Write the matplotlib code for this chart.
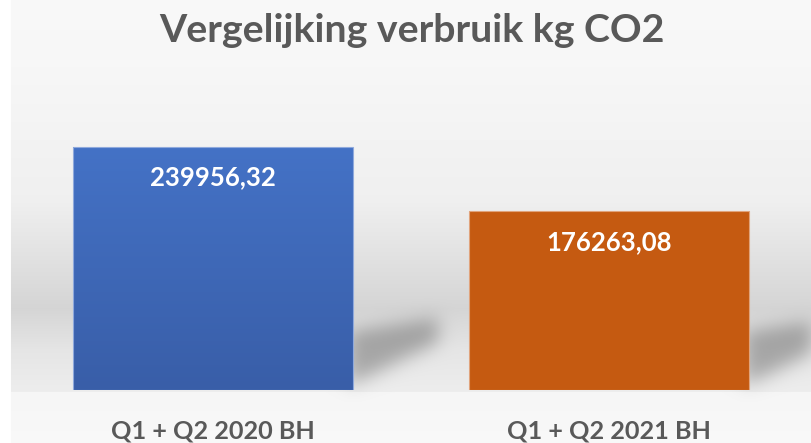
import numpy as np
import matplotlib
matplotlib.use("Agg")
import matplotlib.pyplot as plt
from matplotlib.path import Path

plt.rcParams['font.family'] = ['Lato', 'DejaVu Sans']

categories = ["Q1 + Q2 2020 BH", "Q1 + Q2 2021 BH"]
values = [239956.32, 176263.08]
value_labels = ["239956,32", "176263,08"]
title = "Vergelijking verbruik kg CO2"

W, H = 812, 443
fig = plt.figure(figsize=(W / 100, H / 100), dpi=100)

# background axes (wall + floor + shadows), filled in after bars exist
bg_ax = fig.add_axes([0, 0, 1, 1], zorder=0)
bg_ax.axis('off')

ax = fig.add_axes([15 / W, 53 / H, 792 / W, 304 / H], zorder=1)
ax.patch.set_alpha(0)
ax.set_xlim(-0.5, 1.5)
ax.set_ylim(0, 300000)

x = np.arange(len(categories))
bars = ax.bar(x, values, width=0.707, color=['#4472C4', '#C55A11'],
              edgecolor=['#8fa9dc', '#e0a37c'], linewidth=0.8)

# blue gradient on first bar
b = bars[0]
grad = np.linspace(0, 1, 256).reshape(-1, 1)
top_c = np.array([0x44, 0x72, 0xC6]) / 255
bot_c = np.array([0x39, 0x5E, 0xA8]) / 255
img = top_c + (bot_c - top_c) * grad[..., None]
im = ax.imshow(img.reshape(256, 1, 3), extent=[b.get_x(), b.get_x() + b.get_width(), 0, b.get_height()],
               aspect='auto', origin='upper', zorder=2)
im.set_clip_path(b)
b.set_zorder(3)
b.set_facecolor('none')

for xi, v, lab in zip(x, values, value_labels):
    ax.annotate(lab, (xi, v), xytext=(0, -22), textcoords='offset points',
                ha='center', va='center', color='white', fontsize=18.5, fontweight='bold', zorder=5)

ax.set_xticks(x)
ax.set_xticklabels(categories, fontsize=18.2, fontweight='bold', color='#595959')
ax.tick_params(axis='x', length=0, pad=21)
ax.set_yticks([])
for s in ax.spines.values():
    s.set_visible(False)

fig.text(0.507, 1 - 31 / H, title, ha='center', va='center', fontsize=28.3,
         fontweight='bold', color='#595959')

# build background image in pixel rows (row 0 = top)
rows = np.arange(H, dtype=float)
floor_y = 392
wall = np.interp(rows, [0, 60, 200, 308, 350, floor_y - 1, floor_y, H],
                 [0.975, 0.97, 0.94, 0.835, 0.90, 0.93, 0.965, 0.975])
bgimg = np.repeat(wall[:, None], W, axis=1)
bgimg[:, :11] = 1.0

# shadows behind bars, derived from bar positions
yy, xx = np.mgrid[0:H, 0:W]
pts = np.column_stack([xx.ravel() + 0.5, yy.ravel() + 0.5])
mask = np.zeros(H * W)
for bar in bars:
    (x0, y0), (x1, y1) = ax.transData.transform([[bar.get_x(), 0],
                                                 [bar.get_x() + bar.get_width(), bar.get_height()]])
    xr = x1
    yb = H - y0
    poly = Path([(xr - 5, yb - 4), (xr - 5, yb - 58), (xr + 85, yb - 72), (xr + 85, yb - 48)])
    mask = np.maximum(mask, poly.contains_points(pts).astype(float))
mask = mask.reshape(H, W)

def blur(a, sigma):
    r = int(3 * sigma)
    k = np.exp(-0.5 * (np.arange(-r, r + 1) / sigma) ** 2)
    k /= k.sum()
    a = np.apply_along_axis(lambda m: np.convolve(m, k, mode='same'), 0, a)
    a = np.apply_along_axis(lambda m: np.convolve(m, k, mode='same'), 1, a)
    return a

mask = blur(mask, 9)
bgimg = bgimg * (1 - 0.28 * mask)
bg_ax.imshow(np.dstack([bgimg] * 3), extent=[0, 1, 0, 1], aspect='auto', origin='upper',
             interpolation='bilinear')
bg_ax.set_xlim(0, 1)
bg_ax.set_ylim(0, 1)

fig.savefig("out.png", dpi=100)
